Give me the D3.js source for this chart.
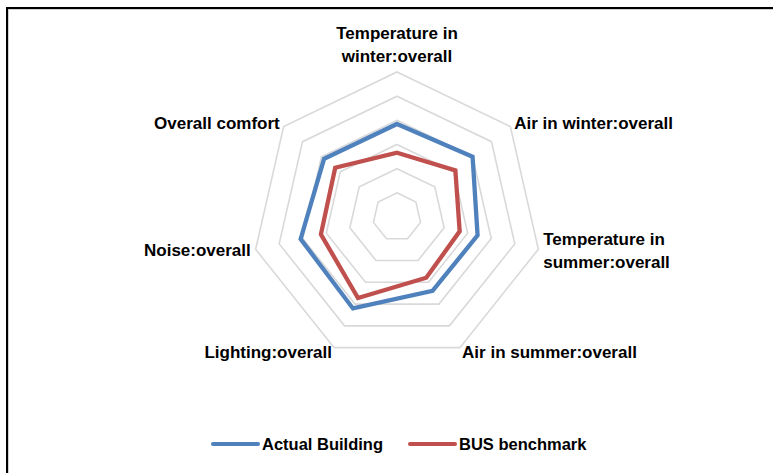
<!DOCTYPE html>
<html>
<head>
<meta charset="utf-8">
<script src="https://cdn.jsdelivr.net/npm/d3@7"></script>
<style>
  body { margin: 0; background: #fff; }
  svg text { font-family: "Liberation Sans", Arial, sans-serif; font-weight: bold; fill: #000; }
</style>
</head>
<body>
<svg id="chart" width="773" height="473"></svg>
<script>
// categories (axes), clockwise from the top
var categories = [
    "Temperature in winter:overall",
    "Air in winter:overall",
    "Temperature in summer:overall",
    "Air in summer:overall",
    "Lighting:overall",
    "Noise:overall",
    "Overall comfort"
];
// how the labels break into lines
var labelLines = [
    ["Temperature in", "winter:overall"],
    ["Air in winter:overall"],
    ["Temperature in", "summer:overall"],
    ["Air in summer:overall"],
    ["Lighting:overall"],
    ["Noise:overall"],
    ["Overall comfort"]
];
var actualBuilding = [4.85, 5.0, 4.42, 4.39, 5.2, 5.09, 4.86];
var busBenchmark   = [3.66, 4.09, 3.66, 3.79, 4.72, 4.23, 4.27];
var seriesNames = ["Actual Building", "BUS benchmark"];
var gridTicks = [2, 3, 4, 5, 6, 7];

var svg = d3.select("#chart");
var cx = 397, cy = 217, outerR = 145;

// frame
svg.append("rect")
    .attr("x", 7).attr("y", 8)
    .attr("width", 800).attr("height", 500)
    .attr("fill", "none").attr("stroke", "#000").attr("stroke-width", 2);
svg.append("rect")
    .attr("x", 8.5).attr("y", 9.5)
    .attr("width", 800).attr("height", 500)
    .attr("fill", "none").attr("stroke", "#d0d0d0").attr("stroke-width", 1);

var rScale = d3.scaleLinear().domain([1, 7]).range([0, outerR]);
var angle = d3.scaleLinear().domain([0, categories.length]).range([0, 2 * Math.PI]);

var g = svg.append("g").attr("transform", "translate(" + cx + "," + cy + ")");

var radial = d3.lineRadial()
    .angle(function(d, i) { return angle(i); })
    .radius(function(d) { return rScale(d); })
    .curve(d3.curveLinearClosed);

// grid heptagons
g.selectAll(".grid")
    .data(gridTicks)
    .enter().append("path")
    .attr("class", "grid")
    .attr("d", function(t) { return radial(categories.map(function() { return t; })); })
    .attr("fill", "none")
    .attr("stroke", "#d9d9d9")
    .attr("stroke-width", 1.6);

var colors = ["#4f81bd", "#c0504d"];
var series = [actualBuilding, busBenchmark];

g.selectAll(".series")
    .data(series)
    .enter().append("path")
    .attr("class", "series")
    .attr("d", radial)
    .attr("fill", "none")
    .attr("stroke", function(d, i) { return colors[i]; })
    .attr("stroke-width", 4.3)
    .attr("stroke-linejoin", "miter");

// axis labels
var lineH = 23, pad = 5;
categories.forEach(function(c, i) {
    var a = angle(i) - Math.PI / 2;
    var r = outerR + pad;
    var x = r * Math.cos(a), y = r * Math.sin(a);
    var anchor = Math.abs(Math.cos(a)) < 0.1 ? "middle" : (Math.cos(a) > 0 ? "start" : "end");
    var lines = labelLines[i];
    var top;
    if (i === 0) top = y - lines.length * lineH;
    else top = y - lines.length * lineH / 2;
    var t = g.append("text")
        .attr("text-anchor", anchor)
        .attr("font-size", 17);
    lines.forEach(function(l, k) {
        t.append("tspan")
            .attr("x", x)
            .attr("y", top + k * lineH + lineH / 2 + 6)
            .text(l);
    });
});

// legend
var legend = svg.append("g").attr("transform", "translate(213,444)");
var legX = [0, 197];
seriesNames.forEach(function(n, i) {
    var lg = legend.append("g").attr("transform", "translate(" + legX[i] + ",0)");
    lg.append("line")
        .attr("x1", 0).attr("x2", 45)
        .attr("y1", 0).attr("y2", 0)
        .attr("stroke", colors[i]).attr("stroke-width", 4)
        .attr("stroke-linecap", "round");
    lg.append("text")
        .attr("x", 49).attr("y", 6)
        .attr("font-size", 16.5)
        .text(n);
});
</script>
</body>
</html>
